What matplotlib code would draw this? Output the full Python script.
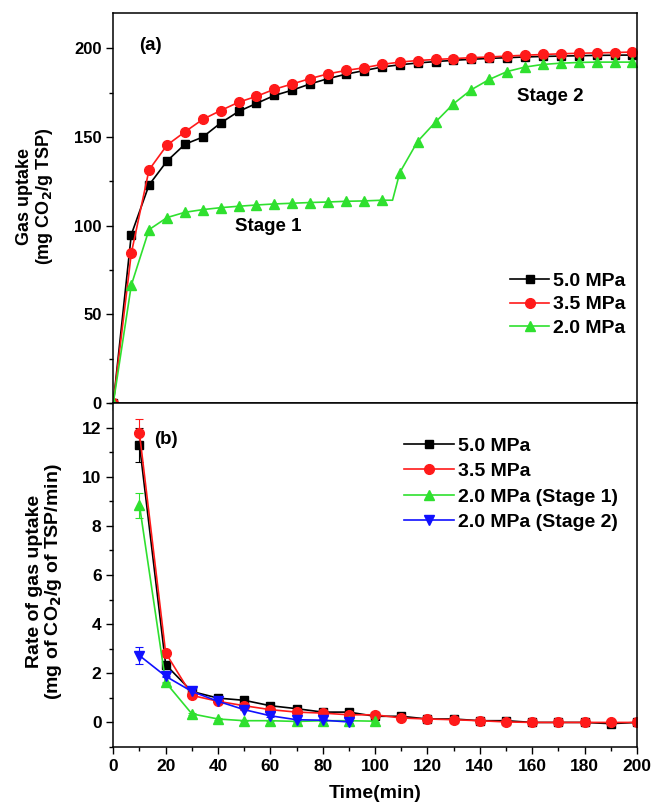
import matplotlib
matplotlib.use("Agg")
import matplotlib.pyplot as plt
from matplotlib.ticker import MultipleLocator

plt.rcParams['font.family'] = ['Liberation Sans', 'DejaVu Sans']
plt.rcParams['font.weight'] = 'bold'
plt.rcParams['mathtext.default'] = 'bf'

# ---------- panel (a): gas uptake ----------
time_a = [0, 6.7, 13.3, 20, 26.7, 33.3, 40, 46.7, 53.3, 60, 66.7, 73.3, 80, 86.7, 93.3,
          100, 106.7, 113.3, 120, 126.7, 133.3, 140, 146.7, 153.3, 160, 166.7, 173.3,
          180, 186.7, 193.3]
uptake_50 = [0, 95, 123, 136.5, 146, 150, 158, 164.5, 169, 173.5, 176.5, 180, 183, 185.5,
             187.5, 189.5, 190.8, 191.8, 192.6, 193.3, 193.9, 194.4, 194.8, 195.2, 195.5,
             195.7, 195.9, 196.1, 196.2, 196.3]
uptake_35 = [0, 84.5, 131.5, 145.5, 153, 160, 165, 169.7, 173, 177, 180, 183, 185.7, 187.6,
             189.1, 191, 192.3, 193.2, 193.8, 194.3, 194.8, 195.2, 195.7, 196.2, 196.6,
             197, 197.3, 197.5, 197.7, 198]
time_20 = [0, 6.7, 13.3, 20, 26.7, 33.3, 40, 46.7, 53.3, 60, 66.7, 73.3, 80, 86.7, 93.3,
           100, 104, 106.7, 113.3, 120, 126.7, 133.3, 140, 146.7, 153.3, 160, 166.7, 173.3,
           180, 186.7, 193.3]
uptake_20 = [0, 66.5, 97.8, 104.6, 107.6, 109.1, 110.2, 111, 111.7, 112.3, 112.7, 113.1,
             113.4, 113.8, 114, 114.4, 114.4, 130, 147.5, 158.5, 168.8, 176.7, 182.5, 187,
             189.5, 191, 191.7, 192.1, 192.3, 192.3, 192.3]
legend_a = ['5.0 MPa', '3.5 MPa', '2.0 MPa']

# ---------- panel (b): rate of gas uptake ----------
time_b = [10, 20, 30, 40, 50, 60, 70, 80, 90, 100, 110, 120, 130, 140, 150, 160, 170,
          180, 190, 200]
rate_50 = [11.3, 2.35, 1.26, 0.99, 0.9, 0.68, 0.56, 0.42, 0.42, 0.25, 0.25, 0.14, 0.14,
           0.07, 0.07, 0.0, 0.0, 0.0, -0.05, 0.0]
rate_35 = [11.76, 2.83, 1.1, 0.86, 0.68, 0.52, 0.42, 0.38, 0.31, 0.31, 0.18, 0.14, 0.11,
           0.07, 0.02, 0.0, 0.0, 0.0, 0.0, 0.0]
err_50 = [0.7] + [0.05] * 19
err_35 = [0.6] + [0.05] * 19
time_s1 = [10, 20, 30, 40, 50, 60, 70, 80, 90, 100]
rate_s1 = [8.83, 1.63, 0.35, 0.14, 0.07, 0.07, 0.04, 0.07, 0.07, 0.05]
err_s1 = [0.5] + [0.03] * 9
time_s2 = [10, 20, 30, 40, 50, 60, 70, 80, 90]
rate_s2 = [2.72, 1.88, 1.26, 0.86, 0.52, 0.27, 0.11, 0.09, 0.02]
err_s2 = [0.35] + [0.03] * 8
legend_b = ['5.0 MPa', '3.5 MPa', '2.0 MPa (Stage 1)', '2.0 MPa (Stage 2)']

GREEN = '#2fe02f'
RED = '#ff1a1a'
BLUE = '#1010ff'
FS = 13.5
LFS = 14

fig = plt.figure(figsize=(6.52, 8.08), dpi=100)
ax1 = fig.add_axes([0.1738, 0.5012, 0.803, 0.4827])
ax2 = fig.add_axes([0.1738, 0.0755, 0.803, 0.4257])

lw = 1.2
ax1.plot(time_a, uptake_50, '-s', color='black', lw=lw, ms=6, label=legend_a[0])
ax1.plot(time_a, uptake_35, '-o', color=RED, lw=lw, ms=7, label=legend_a[1])
mk = [i for i in range(len(time_20)) if i != 16]
ax1.plot(time_20, uptake_20, '-^', color=GREEN, lw=lw, ms=7, markevery=mk, label=legend_a[2])

ax1.set_xlim(0, 195)
ax1.set_ylim(0, 220)
ax1.xaxis.set_major_locator(MultipleLocator(50))
ax1.xaxis.set_minor_locator(MultipleLocator(25))
ax1.yaxis.set_major_locator(MultipleLocator(50))
ax1.yaxis.set_minor_locator(MultipleLocator(25))
ax1.tick_params(axis='x', which='both', labelbottom=False, direction='out')
ax1.tick_params(which='major', length=5, width=1)
ax1.tick_params(which='minor', length=3, width=1)
ax1.tick_params(axis='y', labelsize=12)
ax1.set_ylabel('Gas uptake\n(mg CO$_2$/g TSP)', fontsize=13, fontweight='bold',
               linespacing=1.05)
ax1.yaxis.set_label_coords(-0.112, 0.53)
ax1.text(13.7, 201.8, '(a)', fontsize=FS, fontweight='bold', ha='center', va='center')
ax1.text(57.6, 99.8, 'Stage 1', fontsize=FS, fontweight='bold', ha='center', va='center')
ax1.text(162.7, 173, 'Stage 2', fontsize=FS, fontweight='bold', ha='center', va='center')
ax1.legend(loc='lower right', bbox_to_anchor=(1.005, 0.135), frameon=False, fontsize=LFS,
           handlelength=2.05, handletextpad=0.2, labelspacing=0.3, borderaxespad=0.3)

ekw = dict(elinewidth=0.8, capsize=3, capthick=0.8)
c1 = ax2.errorbar(time_b, rate_50, yerr=err_50, fmt='-s', color='black', lw=lw, ms=6, **ekw)
c2 = ax2.errorbar(time_b, rate_35, yerr=err_35, fmt='-o', color=RED, lw=lw, ms=7, **ekw)
c3 = ax2.errorbar(time_s1, rate_s1, yerr=err_s1, fmt='-^', color=GREEN, lw=lw, ms=7, **ekw)
c4 = ax2.errorbar(time_s2, rate_s2, yerr=err_s2, fmt='-v', color=BLUE, lw=lw, ms=7, **ekw)

ax2.set_xlim(0, 200)
ax2.set_ylim(-1, 13)
ax2.xaxis.set_major_locator(MultipleLocator(20))
ax2.xaxis.set_minor_locator(MultipleLocator(10))
ax2.yaxis.set_major_locator(MultipleLocator(2))
ax2.yaxis.set_minor_locator(MultipleLocator(1))
ax2.tick_params(which='major', length=5, width=1, labelsize=12.5)
ax2.tick_params(which='minor', length=3, width=1)
ax2.set_xlabel('Time(min)', fontsize=14, fontweight='bold', labelpad=8)
ax2.set_ylabel('Rate of gas uptake\n(mg of CO$_2$/g of TSP/min)', fontsize=14,
               fontweight='bold', linespacing=1.0)
ax2.yaxis.set_label_coords(-0.095, 0.48)
ax2.text(20, 11.5, '(b)', fontsize=FS, fontweight='bold', ha='center', va='center')
ax2.legend([c1[0], c2[0], c3[0], c4[0]], legend_b, loc='upper right',
           bbox_to_anchor=(0.99, 0.94), frameon=False, fontsize=LFS,
           handlelength=2.6, handletextpad=0.2, labelspacing=0.4, borderaxespad=0.3)

for ax in (ax1, ax2):
    for s in ax.spines.values():
        s.set_linewidth(1.1)
    for t in ax.get_yticklabels() + ax.get_xticklabels():
        t.set_fontweight('bold')

fig.savefig('out.png', dpi=100)
